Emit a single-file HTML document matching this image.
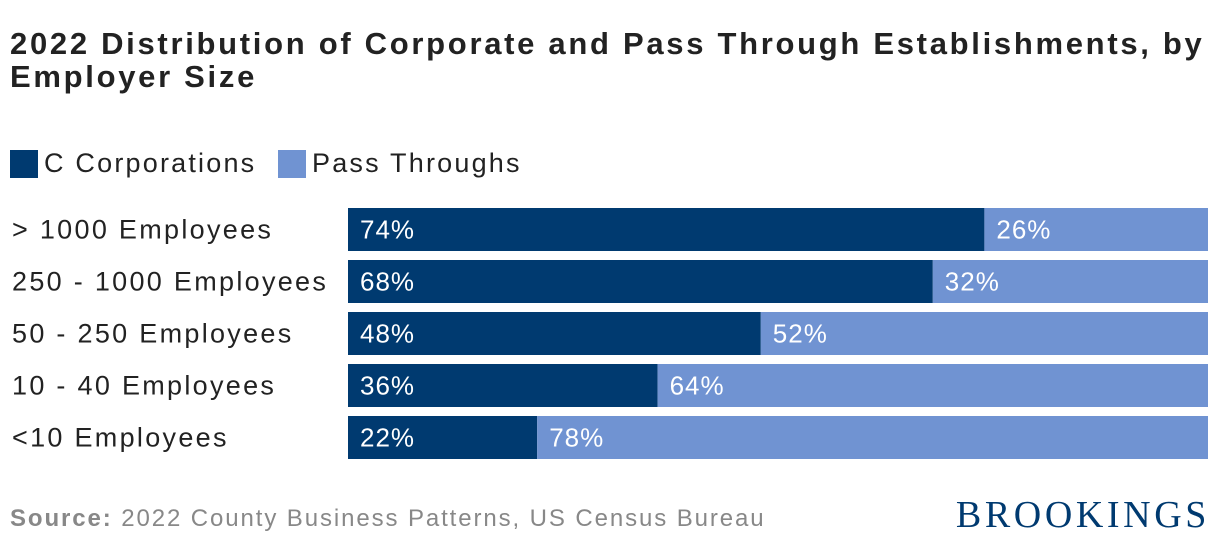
<!DOCTYPE html>
<html><head><meta charset="utf-8"><style>
body{margin:0;width:1220px;height:548px;background:#fff;font-family:"Liberation Sans",sans-serif;overflow:hidden;position:relative}
.t{position:absolute;left:10px;top:27px;font-size:31px;letter-spacing:2.7px;font-weight:bold;color:#222;line-height:33px;width:1210px;white-space:nowrap}
.leg{position:absolute;top:148px;font-size:27px;letter-spacing:2.2px;color:#222;display:flex;align-items:center}
.sw{width:28px;height:28px;margin-right:6px}
.src{position:absolute;left:10px;top:505px;font-size:24px;letter-spacing:1.9px;color:#888}
.brk{position:absolute;right:10px;top:493px;font-family:"Liberation Serif",serif;font-size:38px;color:#003a70;letter-spacing:3.6px}
</style></head><body>
<div class="t">2022 Distribution of Corporate and Pass Through Establishments, by<br>Employer Size</div>
<div class="leg" style="left:10px"><div class="sw" style="background:#003a70"></div>C Corporations</div>
<div class="leg" style="left:278px"><div class="sw" style="background:#7093d2"></div>Pass Throughs</div>
<svg id="c" width="1220" height="548" style="position:absolute;left:0;top:0"></svg>
<div class="src"><b>Source:</b> 2022 County Business Patterns, US Census Bureau</div>
<div class="brk">BROOKINGS</div>
<script>
const categories=["> 1000 Employees","250 - 1000 Employees","50 - 250 Employees","10 - 40 Employees","<10 Employees"];
const cCorp=[74,68,48,36,22];
const passThrough=[26,32,52,64,78];
const svg=document.getElementById('c');
const NS='http://www.w3.org/2000/svg';
const x0=348,w=860,y0=208,pitch=52,bh=43;
const xs=v=>v/100*w;
function el(t,a){const e=document.createElementNS(NS,t);for(const k in a)e.setAttribute(k,a[k]);svg.appendChild(e);return e;}
categories.forEach((c,i)=>{
  const y=y0+i*pitch;
  const lab=el('text',{x:12,y:y+bh/2+9,'font-size':27,'letter-spacing':2.3,fill:'#222','font-family':'Liberation Sans, sans-serif'});
  lab.textContent=c;
  
  
  const a=el('rect',{x:x0,y:y,width:xs(cCorp[i]),height:bh,fill:'#003a70'});
  
  
  const b=el('rect',{x:x0+xs(cCorp[i]),y:y,width:xs(passThrough[i]),height:bh,fill:'#7093d2'});
  
  
  const t1=el('text',{x:x0+12,y:y+bh/2+9,'font-size':26,'letter-spacing':1,fill:'#fff','font-family':'Liberation Sans, sans-serif'});
  t1.textContent=cCorp[i]+'%';
  
  
  const t2=el('text',{x:x0+xs(cCorp[i])+12,y:y+bh/2+9,'font-size':26,'letter-spacing':1,fill:'#fff','font-family':'Liberation Sans, sans-serif'});
  t2.textContent=passThrough[i]+'%';
  
  
});
</script>
</body></html>
